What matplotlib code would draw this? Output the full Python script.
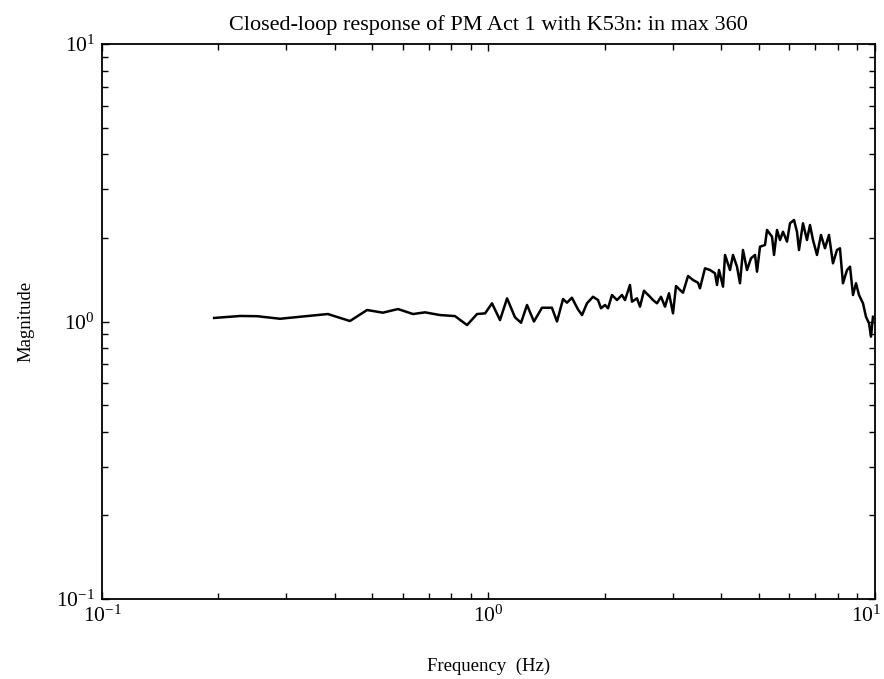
import numpy as np
import matplotlib
matplotlib.use('Agg')
import matplotlib.pyplot as plt
import matplotlib.transforms as mtransforms
from matplotlib.ticker import LogLocator, NullFormatter

plt.rcParams['font.family'] = ['Liberation Serif', 'DejaVu Serif']
plt.rcParams['mathtext.fontset'] = 'custom'
plt.rcParams['mathtext.rm'] = 'Liberation Serif'
plt.rcParams['mathtext.it'] = 'Liberation Serif:italic'

# frequency (Hz) and closed-loop magnitude
freq = [0.195, 0.228, 0.252, 0.289, 0.325, 0.384, 0.438, 0.485, 0.533, 0.583,
        0.638, 0.685, 0.749, 0.819, 0.880, 0.934, 0.980, 1.021, 1.071, 1.117,
        1.171, 1.214, 1.258, 1.311, 1.375, 1.459, 1.504, 1.559, 1.596, 1.644,
        1.704, 1.746, 1.798, 1.864, 1.920, 1.955, 2.002, 2.038, 2.087, 2.150,
        2.215, 2.255, 2.323, 2.351, 2.422, 2.466, 2.525, 2.617, 2.664, 2.729,
        2.795, 2.862, 2.931, 3.002, 3.056, 3.130, 3.186, 3.283, 3.382, 3.483,
        3.525, 3.632, 3.742, 3.855, 3.902, 3.948, 4.044, 4.093, 4.216, 4.292,
        4.395, 4.474, 4.555, 4.665, 4.778, 4.893, 4.952, 5.041, 5.193, 5.256,
        5.415, 5.480, 5.578, 5.679, 5.781, 5.921, 6.027, 6.172, 6.283, 6.359,
        6.512, 6.668, 6.789, 6.912, 7.078, 7.249, 7.423, 7.602, 7.785, 7.973,
        8.117, 8.263, 8.466, 8.618, 8.773, 8.931, 9.092, 9.311, 9.478, 9.650,
        9.765, 9.881]
mag = [1.03, 1.047, 1.045, 1.023, 1.04, 1.064, 1.004, 1.10, 1.076, 1.109,
       1.064, 1.079, 1.055, 1.046, 0.971, 1.064, 1.070, 1.163, 1.012, 1.212,
       1.035, 0.99, 1.147, 1.0, 1.121, 1.121, 1.0, 1.205, 1.169, 1.218,
       1.106, 1.055, 1.163, 1.228, 1.195, 1.116, 1.147, 1.116, 1.246, 1.195,
       1.246, 1.195, 1.354, 1.179, 1.212, 1.131, 1.291, 1.228, 1.195, 1.163,
       1.228, 1.131, 1.264, 1.070, 1.342, 1.299, 1.270, 1.459, 1.411, 1.380,
       1.317, 1.555, 1.533, 1.492, 1.354, 1.533, 1.335, 1.737, 1.533, 1.737,
       1.576, 1.373, 1.810, 1.533, 1.690, 1.737, 1.512, 1.860, 1.887, 2.137,
       2.021, 1.737, 2.137, 1.967, 2.106, 1.940, 2.259, 2.322, 2.106, 1.810,
       2.259, 1.967, 2.227, 1.967, 1.737, 2.050, 1.836, 2.050, 1.621, 1.810,
       1.836, 1.373, 1.533, 1.576, 1.246, 1.373, 1.246, 1.163, 1.040, 0.985,
       0.882, 1.040]

decades = [0.1, 1, 10]
decade_labels = ['$10^{-1}$', '$10^{0}$', '$10^{1}$']
title = 'Closed-loop response of PM Act 1 with K53n: in max 360'

fig = plt.figure(figsize=(8.84, 6.79), dpi=100)
ax = fig.add_axes([0.1154, 0.1178, 0.8744, 0.8174])

ax.plot(freq, mag, color='black', lw=1.8)
ax.set_xscale('log')
ax.set_yscale('log')
ax.set_xlim(0.1, 10)
ax.set_ylim(0.1, 10)
ax.set_xticks(decades, decade_labels)
ax.set_yticks(decades, decade_labels)

ax.xaxis.set_minor_locator(LogLocator(base=10, subs=np.arange(2, 10)))
ax.yaxis.set_minor_locator(LogLocator(base=10, subs=np.arange(2, 10)))
ax.xaxis.set_minor_formatter(NullFormatter())
ax.yaxis.set_minor_formatter(NullFormatter())
ax.tick_params(which='both', direction='in', top=True, right=True,
               labelsize=15.5, width=1.0)
ax.tick_params(which='major', length=5, pad=5)
ax.tick_params(which='minor', length=4)
for s in ax.spines.values():
    s.set_linewidth(1.3)

ax.set_title(title, fontsize=16, pad=10)
ax.set_xlabel('Frequency  (Hz)', fontsize=13.5, labelpad=22)
ax.set_ylabel('Magnitude', fontsize=13.5, labelpad=16)

# keep the last x tick label inside the figure, as in the original
last = ax.xaxis.get_major_ticks()[-1].label1
shift = mtransforms.ScaledTranslation(-9 / 100, 0, fig.dpi_scale_trans)
last.set_transform(last.get_transform() + shift)

plt.savefig('out.png', dpi=100)
